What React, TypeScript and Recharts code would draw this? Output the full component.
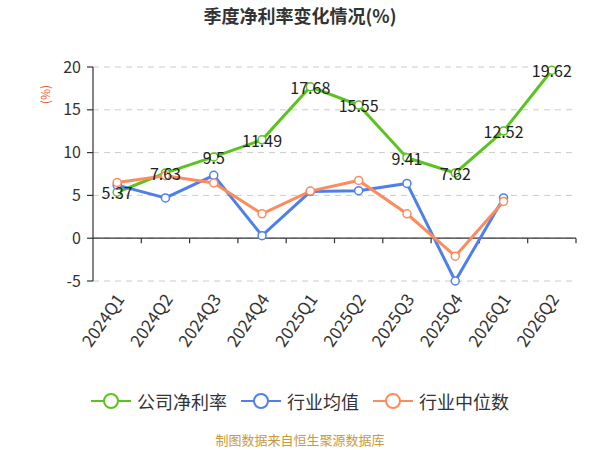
import React from 'react';
import { LineChart, Line, XAxis, YAxis, CartesianGrid, Legend, ReferenceLine, LabelList } from 'recharts';

const quarters = ['2024Q1', '2024Q2', '2024Q3', '2024Q4', '2025Q1', '2025Q2', '2025Q3', '2025Q4', '2026Q1', '2026Q2'];
const companyRate = [5.37, 7.63, 9.5, 11.49, 17.68, 15.55, 9.41, 7.62, 12.52, 19.62];
const industryMean = [6.2, 4.7, 7.35, 0.3, 5.45, 5.55, 6.4, -5.0, 4.7, null];
const industryMedian = [6.5, 7.3, 6.45, 2.85, 5.5, 6.75, 2.85, -2.1, 4.3, null];
const yTicks = [-5, 0, 5, 10, 15, 20];

const series = [
  { key: 'company', name: '公司净利率', color: '#5ac41f' },
  { key: 'mean', name: '行业均值', color: '#4f80ea' },
  { key: 'median', name: '行业中位数', color: '#fa8c5d' },
];

const data = quarters.map((q, i) => ({
  name: q,
  company: companyRate[i],
  mean: industryMean[i],
  median: industryMedian[i],
}));

const FONT = '"Noto Sans CJK SC", "Noto Sans", sans-serif';

const XTick = (props: any) => {
  const { x, y, payload } = props;
  const ax = x + 2;
  return (
    <text
      x={ax}
      y={y}
      transform={`rotate(-55 ${ax} ${y})`}
      textAnchor="end"
      dominantBaseline="central"
      fontSize={17}
      fontFamily={FONT}
      fill="#333"
    >
      {payload.value}
    </text>
  );
};

// zero line with category boundary ticks hanging below it
const ZeroAxis = (props: any) => {
  const { x1, y1, x2 } = props;
  if (x1 == null) return null;
  const step = (x2 - x1) / quarters.length;
  return (
    <g>
      <line x1={x1} y1={y1} x2={x2} y2={y1} stroke="#333" strokeWidth={1.2} />
      {quarters.map((_, i) => (
        <line key={i} x1={x1 + step * (i + 1)} y1={y1} x2={x1 + step * (i + 1)} y2={y1 + 5} stroke="#333" strokeWidth={1.2} />
      ))}
    </g>
  );
};

const PointLabel = (props: any) => {
  const { x, y, value } = props;
  return (
    <text x={x} y={y} textAnchor="middle" dominantBaseline="central" fontSize={16} fontFamily={FONT} fill="#222">
      {value}
    </text>
  );
};

const LegendContent = () => (
  <div style={{ display: 'flex', justifyContent: 'center', alignItems: 'center', fontFamily: FONT, fontSize: 18, color: '#333' }}>
    {series.map((s) => (
      <div key={s.key} style={{ display: 'flex', alignItems: 'center', margin: '0 7px' }}>
        <svg width={40} height={20} style={{ marginRight: 6 }}>
          <line x1={0} y1={10} x2={40} y2={10} stroke={s.color} strokeWidth={2} />
          <circle cx={20} cy={10} r={7} fill="#fff" stroke={s.color} strokeWidth={2} />
        </svg>
        <span>{s.name}</span>
      </div>
    ))}
  </div>
);

export default function App() {
  return (
    <div style={{ position: 'absolute', left: 0, top: 0, width: 600, height: 450, background: '#fff', fontFamily: FONT }}>
      <div style={{ position: 'absolute', top: 3, left: 0, width: 600, textAlign: 'center', fontSize: 18, fontWeight: 'bold', color: '#333', lineHeight: '24px' }}>
        季度净利率变化情况(%)
      </div>
      <div style={{ position: 'absolute', left: 36, top: 86, width: 18, height: 18, transform: 'rotate(-90deg)', color: '#e8643c', fontSize: 12, lineHeight: '18px', textAlign: 'center', whiteSpace: 'nowrap' }}>
        (%)
      </div>
      <LineChart width={600} height={450} data={data} margin={{ top: 67, right: 24, left: 53, bottom: 79 }}>
        <CartesianGrid vertical={false} stroke="#ccc" strokeDasharray="6 5" />
        <XAxis
          dataKey="name"
          scale="band"
          axisLine={false}
          tickLine={false}
          tickSize={0}
          tickMargin={14}
          height={60}
          interval={0}
          tick={<XTick />}
        />
        <YAxis
          domain={[-5, 20]}
          ticks={yTicks}
          width={40}
          axisLine={{ stroke: '#333', strokeWidth: 1.2 }}
          tickLine={{ stroke: '#333', strokeWidth: 1.2 }}
          tickSize={6}
          tickMargin={6}
          tick={{ fill: '#333', fontSize: 16, fontFamily: FONT }}
        />
        <ReferenceLine y={0} shape={<ZeroAxis />} />
        <Legend verticalAlign="bottom" wrapperStyle={{ height: 30, bottom: 32, left: 0, width: 600 }} content={<LegendContent />} />
        {series.map((s) => (
          <Line
            key={s.key}
            type="linear"
            dataKey={s.key}
            name={s.name}
            stroke={s.color}
            strokeWidth={3}
            dot={{ r: 4, fill: '#fff', stroke: s.color, strokeWidth: 1.5 }}
            activeDot={false}
            isAnimationActive={false}
          />
        ))}
        <Line
          dataKey="company"
          stroke="none"
          dot={false}
          activeDot={false}
          legendType="none"
          isAnimationActive={false}
        >
          <LabelList dataKey="company" content={<PointLabel />} />
        </Line>
      </LineChart>
      <div style={{ position: 'absolute', top: 431, left: 0, width: 600, textAlign: 'center', fontSize: 13, color: '#c99a3d', lineHeight: '18px' }}>
        制图数据来自恒生聚源数据库
      </div>
    </div>
  );
}
